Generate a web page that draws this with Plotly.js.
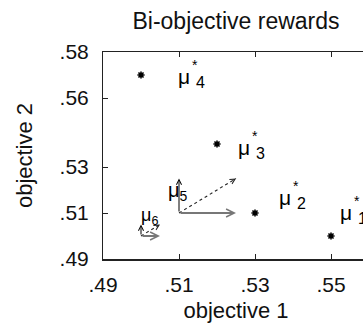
<!DOCTYPE html>
<html>
<head>
<meta charset="utf-8">
<script src="https://cdn.plot.ly/plotly-3.0.1.min.js"></script>
<style>
html,body{margin:0;padding:0;overflow:hidden;background:#fff;}
#chart{width:380px;height:325px;}
</style>
</head>
<body>
<div id="chart"></div>
<script>
// ---- data ----
const xTicks = [0.49, 0.51, 0.53, 0.55];
const xTickText = ['.49', '.51', '.53', '.55'];
const yTicks = [0.49, 0.51, 0.53, 0.56, 0.58];
const yTickText = ['.49', '.51', '.53', '.56', '.58'];

// optimal reward points mu*_k
const optIdx = ['1', '2', '3', '4'];
const optX = [0.55, 0.53, 0.52, 0.50];
const optY = [0.50, 0.51, 0.54, 0.57];

// reward vectors mu_5, mu_6
const vecIdx = ['5', '6'];
const vecX0 = [0.51, 0.50];
const vecY0 = [0.51, 0.50];
const vecDX = [0.015, 0.005];
const vecDY = [0.015, 0.005];

// ---- styling / layout ----
const FONT = 'Liberation Sans, Arial, sans-serif';
const xRange = [0.49, 0.56];
const yRange = [0.49, 0.58];
const M = {l: 103, r: 11, t: 52, b: 66};
const W = 380, H = 325;
const pxX = (W - M.l - M.r) / (xRange[1] - xRange[0]);
const pxY = (H - M.t - M.b) / (yRange[1] - yRange[0]);

// label offsets (screen px) for mu*_k: [dx of mu left, dy of mu middle]
const optLabelOff = [[10, -24], [25, -16], [22, 3], [38, 1]];
const vecLabelOff = [[-10, -22], [1, -20]];
const vecLabelSize = [20, 18];

const traces = [];
traces.push({
  type: 'scatter', mode: 'markers', x: optX, y: optY,
  marker: {symbol: 'asterisk-open', size: 6, color: '#000', line: {width: 1.6, color: '#000'}},
  hoverinfo: 'skip', showlegend: false
});
// dotted diagonal shafts
vecIdx.forEach((k, i) => {
  traces.push({
    type: 'scatter', mode: 'lines',
    x: [vecX0[i], vecX0[i] + vecDX[i]],
    y: [vecY0[i], vecY0[i] + vecDY[i]],
    line: {color: '#222', width: 1.1, dash: 'dot'},
    hoverinfo: 'skip', showlegend: false
  });
});

const ann = [];
optIdx.forEach((k, i) => {
  const [dx, dy] = optLabelOff[i];
  ann.push({x: optX[i], y: optY[i], xref: 'x', yref: 'y', text: 'μ', showarrow: false,
    xanchor: 'left', yanchor: 'middle', xshift: dx - 3, yshift: -dy,
    font: {family: FONT, size: 21, color: '#000'}});
  ann.push({x: optX[i], y: optY[i], xref: 'x', yref: 'y', text: '*', showarrow: false,
    xanchor: 'center', yanchor: 'middle', xshift: dx + 16, yshift: -(dy - 11),
    font: {family: FONT, size: 14, color: '#000'}});
  ann.push({x: optX[i], y: optY[i], xref: 'x', yref: 'y', text: k, showarrow: false,
    xanchor: 'left', yanchor: 'middle', xshift: dx + 15, yshift: -(dy + 6),
    font: {family: FONT, size: 16, color: '#000'}});
});
vecIdx.forEach((k, i) => {
  const x0 = vecX0[i], y0 = vecY0[i];
  const x1 = x0 + vecDX[i], y1 = y0 + vecDY[i];
  // horizontal component (gray)
  ann.push({x: x1, y: y0, ax: x0, ay: y0, xref: 'x', yref: 'y', axref: 'x', ayref: 'y',
    text: '', showarrow: true, arrowhead: 5, arrowsize: 0.8, arrowwidth: 2, arrowcolor: '#777'});
  // vertical component (black)
  ann.push({x: x0, y: y1, ax: x0, ay: y0, xref: 'x', yref: 'y', axref: 'x', ayref: 'y',
    text: '', showarrow: true, arrowhead: 5, arrowsize: 1, arrowwidth: 1, arrowcolor: '#000'});
  // arrowhead for dotted diagonal
  const ddx = vecDX[i] * pxX, ddy = vecDY[i] * pxY;
  const len = Math.hypot(ddx, ddy);
  ann.push({x: x1, y: y1, xref: 'x', yref: 'y', ax: -ddx / len * 5, ay: ddy / len * 5,
    text: '', showarrow: true, arrowhead: 5, arrowsize: 1, arrowwidth: 1, arrowcolor: '#222'});
  // label mu_k
  const [lx, ly] = vecLabelOff[i];
  ann.push({x: x0, y: y0, xref: 'x', yref: 'y', text: 'μ<sub>' + k + '</sub>', showarrow: false,
    xanchor: 'left', yanchor: 'middle', xshift: lx - 3, yshift: -ly,
    font: {family: FONT, size: vecLabelSize[i], color: '#000'}});
});

const layout = {
  width: W, height: H,
  margin: M,
  paper_bgcolor: '#fff', plot_bgcolor: '#fff',
  font: {family: FONT, color: '#000'},
  title: {text: 'Bi-objective rewards', font: {family: FONT, size: 23, color: '#111'},
    x: 0.5, xref: 'paper', y: 1 - 21 / H, yref: 'container', yanchor: 'middle'},
  xaxis: {
    range: xRange, tickvals: xTicks, ticktext: xTickText,
    ticks: 'inside', ticklen: 5, tickwidth: 1, tickcolor: '#222',
    showline: true, linecolor: '#222', linewidth: 1.5, mirror: 'ticks',
    showgrid: false, zeroline: false, ticklabelstandoff: 6,
    tickfont: {family: FONT, size: 21, color: '#111'},
    title: {text: 'objective 1', font: {family: FONT, size: 22, color: '#111'}, standoff: 8},
    automargin: false, fixedrange: true
  },
  yaxis: {
    range: yRange, tickvals: yTicks, ticktext: yTickText,
    ticks: 'inside', ticklen: 5, tickwidth: 1, tickcolor: '#222',
    showline: true, linecolor: '#222', linewidth: 1, mirror: 'ticks',
    showgrid: false, zeroline: false, ticklabelstandoff: 9,
    tickfont: {family: FONT, size: 21, color: '#111'},
    title: {text: 'objective 2', font: {family: FONT, size: 22, color: '#111'}, standoff: 20},
    automargin: false, fixedrange: true
  },
  annotations: ann,
  showlegend: false
};

Plotly.newPlot('chart', traces, layout, {staticPlot: true, displayModeBar: false});
</script>
</body>
</html>
